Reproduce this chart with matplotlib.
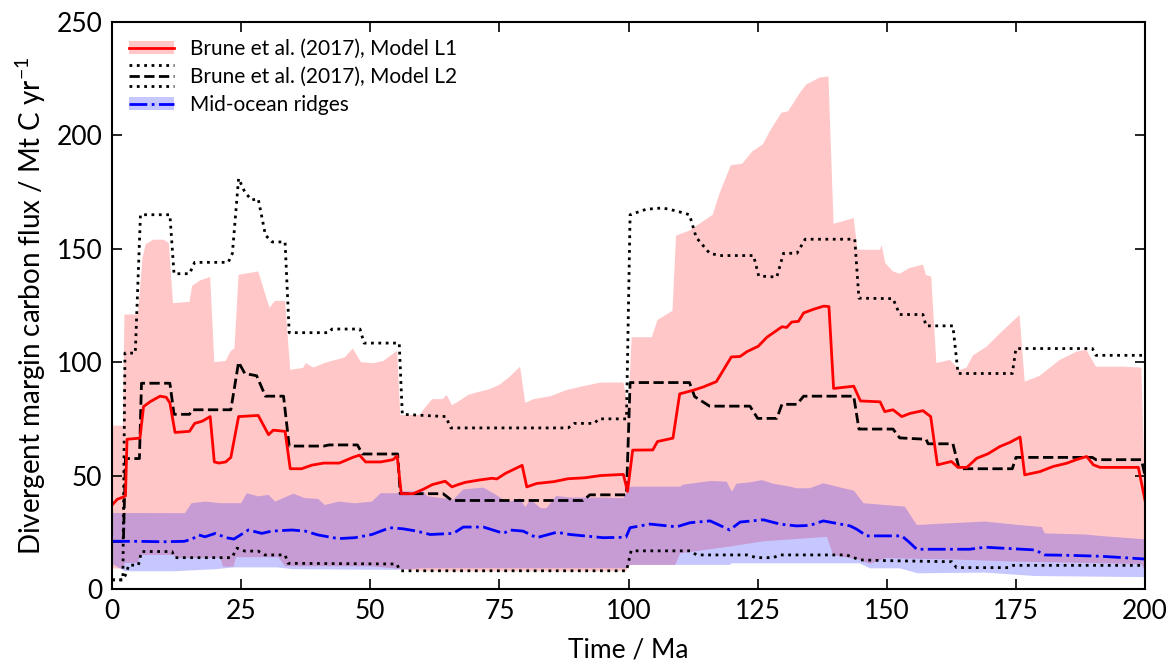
import numpy as np
import matplotlib
matplotlib.use('Agg')
import matplotlib.pyplot as plt
from matplotlib.lines import Line2D
from matplotlib.patches import Patch
from matplotlib.legend_handler import HandlerBase

plt.rcParams['font.family'] = ['Lato', 'DejaVu Sans']
plt.rcParams['mathtext.fontset'] = 'custom'
plt.rcParams['mathtext.rm'] = 'Lato'

# Brune et al. (2017), Model L1: mean line
l1_t = [0, 1, 2.2, 2.6, 2.9, 5.4, 6.1, 7.4, 9.3, 10.5, 11.2, 12.2, 15, 16, 17.5, 19, 19.8, 20.7,
        22, 23, 24.5, 28.3, 30.3, 31.2, 33.5, 34.5, 36.7, 38.7, 41, 44, 46.6, 47.9, 49.1, 52,
        54.4, 55.2, 56, 58.3, 60.3, 62, 64.5, 65.8, 67, 68.4, 71, 73.6, 74.5, 76.2, 79.4, 80.3,
        82.2, 85.5, 88.3, 91.5, 94.6, 99, 99.8, 100.8, 104.7, 105.6, 108.6, 109.9, 112.5, 114.4,
        117, 119.9, 121.6, 122.9, 125.1, 126.8, 128.7, 129.7, 130.6, 131.6, 132.9, 133.9, 135.8,
        137.8, 138.8, 139.7, 143.6, 144.9, 148.7, 149.6, 151.2, 152.9, 154.5, 157, 158.5, 159.8,
        162.5, 163.8, 165.5, 167.4, 169.6, 171.9, 173.8, 175.8, 176.7, 179.6, 182.2, 184.8,
        186.7, 188.7, 190, 191.3, 198.7, 200]
l1_mean = [37, 39.5, 40.6, 41, 66, 66.5, 80.4, 82.6, 85, 84.5, 82, 69, 69.5, 73, 74, 76, 56, 55.5,
           56, 58, 76, 76.5, 68, 70, 69.5, 53, 53, 54.6, 55.5, 55.5, 58, 59, 56, 56,
           57, 58.7, 42, 42, 44, 46, 47.5, 45, 46, 47, 48, 48.8, 48.5, 51, 54.5, 45,
           46.5, 47.3, 48.6, 49, 50, 50.5, 43, 61.2, 61.3, 65, 66.5, 86, 87.6, 89,
           91.4, 102.3, 102.5, 104.6, 107, 111, 114, 115.6, 115.3, 117.7, 118, 121.7, 123.3,
           124.7, 124.5, 88.4, 89.4, 82.9, 82.5, 78.2, 79, 76, 77.4, 78.6, 76, 54.7,
           56.2, 53.6, 53.6, 57.6, 59.6, 62.8, 64.6, 67, 50.3, 51.7, 54, 55.4,
           57, 58.4, 54.7, 53.6, 53.6, 39]

# Model L1: range
l1_max_t = [0, 2.1, 2.4, 5, 5.9, 6.5, 8, 10, 11, 11.8, 15, 15.5, 17, 19, 19.8, 22, 23, 23.7, 24.5,
            28.3, 29.7, 30.5, 31.5, 33.5, 34.5, 37, 37.5, 39, 41, 42.6, 45, 46.6, 48.2, 50.5, 52.5,
            54, 55.2, 55.8, 59.5, 60.6, 62, 64, 64.8, 65.8, 67, 69, 71, 73, 75, 77, 79, 80, 81.6,
            84.9, 88, 91.4, 94.6, 99, 100, 100.6, 104.5, 105.6, 108.5, 109.2, 111.8, 113.7, 116.3,
            117.6, 119.8, 122, 124, 126, 127.4, 129.6, 130.9, 133.1, 134.4, 137, 138.7, 139.7,
            143.6, 144.3, 148.7, 149, 149.7, 151.2, 152.5, 154.4, 157, 157.6, 158.6, 159.6, 162.2,
            164.1, 165.4, 166.7, 169.3, 171.9, 175.7, 176.7, 179.6, 183.5, 186.7, 188.6, 190.5,
            195.7, 199.3, 200]
l1_max = [72, 72, 121, 121, 146, 152, 154, 154, 152.5, 126, 126.6, 133.6, 136, 137.5, 100, 100.5, 105,
          106, 138.5, 140, 129.6, 124, 127, 127, 96.6, 97.5, 99.6, 97.6, 99.5, 100.6, 102, 106, 100,
          99.5, 100.5, 103, 105, 76.7, 76.7, 80, 83.7, 83.7, 85.5, 81, 82.6, 85.6, 86.9, 88, 90,
          93.6, 98, 82, 83.7, 85, 87.7, 89.5, 91, 91, 80, 111, 111, 118.6, 122.6, 155.8, 158, 161,
          165, 174.3, 186.8, 187.5, 193, 196, 202, 210, 210.6, 218.5, 222.4, 225.5, 226, 161,
          163.5, 149.6, 149.5, 151.7, 143.7, 140, 139, 141.5, 143, 138.4, 137.7, 99.6, 101,
          96.6, 97.5, 103, 106.8, 112.7, 120.8, 91.4, 94, 101, 104.6, 105.5, 98,
          98, 97.6, 40]
l1_min_t = [0, 2.2, 2.5, 5, 5.5, 11.8, 12.5, 21, 21.5, 23.5, 24, 32.2, 33.5, 50, 55, 60, 99.5, 100.3,
            109, 110, 119.6, 126.1, 138.4, 139.6, 144.8, 146.7, 149.7, 162.6, 176, 199.3, 200]
l1_min = [9, 9, 11.5, 11.5, 15, 15, 13.6, 13.6, 9.8, 9.8, 14, 14, 10, 10, 9, 7.8, 7.8, 10.6,
          10.6, 15.7, 18.7, 21, 23, 15, 12.8, 11, 13.6, 13, 12, 11, 8]

# Brune et al. (2017), Model L2: mean (dashed) and range (dotted)
l2_t = [0, 2.2, 2.6, 5.3, 5.7, 11.2, 12, 15, 15.5, 23, 24.5, 25.7, 28, 29.7, 33.2, 34.3, 41, 42, 47.5,
        48.5, 55.3, 55.8, 64.1, 65.8, 91.2, 92.5, 99.6, 100.3, 111.8, 112.8, 115.7, 123.5, 125,
        128.7, 129.7, 132.6, 133.9, 143.6, 144.6, 151.2, 152.5, 157.6, 158, 162.8, 164, 174.3,
        175, 189.8, 190.5, 199.3, 200]
l2_mean = [21, 21, 57.5, 57.5, 90.7, 90.7, 77, 77, 79, 79, 100, 95, 94, 85, 85, 63, 63, 63.5, 63.5,
           59.5, 59.5, 42, 42, 39, 39, 41.5, 41.5, 91, 91, 84.8, 80.6, 80.6, 75.2,
           75.2, 81.4, 81.4, 85, 85, 70.5, 70.5, 66.6, 66, 64, 64, 53, 53,
           58, 58, 57, 57, 50]
l2_max_t = [0, 2.1, 2.5, 4.5, 5.5, 11.2, 12, 15, 16, 22.5, 23.3, 24.5, 25.7, 27, 28.3, 29.7, 31, 33.5,
            34.3, 42, 42.6, 48, 48.8, 55.6, 56.2, 64.6, 65.6, 88.3, 89.5, 93.4, 94.2, 99.6, 100.3,
            103.4, 106.6, 109.2, 111.8, 113.1, 115.7, 117.7, 124.2, 125.2, 128.7, 130, 132.6, 134.2,
            143.8, 144.6, 151.2, 152.5, 157, 157.6, 162.8, 163.8, 174.3, 175, 189.8, 190.5, 200]
l2_max = [4, 4, 104, 104, 165, 165, 139, 139, 144, 144, 148, 181, 175, 171.5, 172, 156, 153, 153,
          113, 113, 114.6, 114.6, 108.4, 108.4, 77, 76, 71, 71, 73, 73, 75, 75, 165,
          167.4, 168, 166.7, 165, 155, 148, 147, 147, 138, 137.5, 148, 148, 154.2,
          154.2, 128.2, 128, 121, 121, 116, 116, 95, 95, 106, 106, 103, 103]
l2_min_t = [0, 2.1, 2.8, 3.2, 5.1, 5.7, 11.6, 12.2, 23.2, 24.2, 25.7, 28.3, 29.6, 33.5, 34.1, 55.1,
            55.8, 99.6, 100.5, 111.9, 113.2, 122.9, 124.8, 128, 129.3, 142.2, 144.8, 149.7, 162.6,
            163.5, 173.5, 174.5, 200]
l2_min = [4, 4, 7, 10.5, 10.5, 16.5, 16.5, 13.8, 13.8, 18, 16.7, 16.7, 15, 15, 11.3, 11,
          8, 8, 16.8, 16.8, 15, 15, 13.8, 13.8, 15, 15, 12.8, 12.5, 12,
          9.4, 9.4, 10.4, 10.4]

# Mid-ocean ridges: mean and range
mor_t = [0, 5, 10, 14, 15.5, 16.8, 18, 20, 22.1, 23.6, 26.4, 29, 30.9, 34.8, 37.4, 39.9, 43.8, 47,
         50.3, 53.8, 56.4, 59, 61.6, 66.1, 68, 71.9, 75.8, 77, 79.6, 82.2, 86.1, 88.7, 95.1, 99.5,
         100.3, 104.2, 109.3, 111.9, 115.8, 119.6, 121.6, 126.1, 129.3, 132.5, 135.1, 137.7, 142.9,
         144.2, 146.1, 152.9, 154.2, 155.8, 166, 169, 172.2, 178.7, 180.6, 185.8, 191.6, 200]
mor_mean = [21, 21, 20.8, 21, 22, 23.8, 23, 24.5, 22.6, 22, 26, 24.5, 25.5, 26, 25.5, 23.8, 22.2, 22.6,
            24, 27, 26.5, 25.5, 24, 24.5, 27.3, 27.3, 24.5, 26, 25.5, 22.6, 25, 24, 22.6, 22.8,
            27, 28.6, 27.4, 29.2, 30, 26, 29.5, 30.5, 28.6, 27.8, 28, 30, 27.8,
            26.3, 23.4, 23.4, 20.9, 17.5, 17.5, 18.4, 18, 17.2, 15, 14.8, 14.4, 13.2]
mor_max_t = [0, 14.1, 15.4, 18, 21.2, 25, 26.1, 28.3, 30.3, 31.6, 35.1, 37.4, 39.9, 41.2, 43.8, 47,
             50.3, 52, 55.1, 56.4, 60.3, 61, 66.1, 68, 71.9, 73.8, 75.8, 77.1, 79, 80, 81, 83, 84.1,
             86, 88.7, 95.1, 99, 100.3, 101.6, 110, 110.6, 115.8, 119, 120, 120.9, 123.5, 125.8,
             128, 131.3, 132.5, 135.1, 137.7, 141.6, 143.6, 145.5, 149.7, 153.5, 155.8, 162.6, 169,
             175.5, 180, 180.6, 188.4, 191.6, 199.3, 200]
mor_max = [33.5, 33.4, 37.8, 38.5, 37.8, 37.8, 42.2, 40.8, 41.5, 38.5, 42, 40, 39.7, 37, 38.5, 37.8,
           38.5, 42.2, 42.2, 43, 43, 40.9, 39.4, 43.9, 44.7, 42.2, 39.4, 38.5, 40, 36, 39.5, 35.6, 35.6,
           41, 40.3, 40.3, 40, 45, 45.1, 45.1, 46, 47.6, 47.3, 42.9, 46.4, 47, 48,
           46.4, 45.1, 44.4, 44.4, 46.6, 44.4, 43.4, 37.8, 37, 36.3, 28.2, 29, 29.7,
           28.2, 27.3, 24.5, 24, 23.3, 22, 22]
mor_min_t = [0, 2.5, 12, 20, 23.5, 32, 35, 55, 60, 99.5, 100.3, 119.6, 120, 144.8, 146.7, 152.5, 156,
             169, 178.7, 200]
mor_min = [11, 7.8, 7.8, 8.7, 9.5, 9.5, 8.7, 8.4, 9.1, 9.1, 10.6, 10.6, 11.3, 11.3, 9.1, 9.1, 6.9,
           7.2, 5.7, 5.2]


class StackedL2(HandlerBase):
    # dotted / dashed / dotted, stacked like in the original legend
    def create_artists(self, legend, orig_handle, xdescent, ydescent, width, height, fontsize, trans):
        out = []
        mid = height / 2 - ydescent
        for off, ls in [(1, ':'), (0, '--'), (-1, ':')]:
            y = mid + off * 0.5 * fontsize
            out.append(Line2D([-xdescent, -xdescent + width], [y, y], ls=ls, color='k', lw=2,
                              transform=trans))
        return out


fig = plt.figure(figsize=(11.72, 6.61), dpi=100)
ax = fig.add_axes([0.0956, 0.109, 0.8814, 0.8578])

ax.fill(np.concatenate([l1_max_t, l1_min_t[::-1]]), np.concatenate([l1_max, l1_min[::-1]]),
        color='red', alpha=0.22, lw=0)
ax.fill(np.concatenate([mor_max_t, mor_min_t[::-1]]), np.concatenate([mor_max, mor_min[::-1]]),
        color='blue', alpha=0.22, lw=0)

ax.plot(l2_max_t, l2_max, color='k', ls=':', lw=2)
ax.plot(l2_min_t, l2_min, color='k', ls=':', lw=2)
ax.plot(l2_t, l2_mean, color='k', ls='--', lw=2)
ax.plot(l1_t, l1_mean, color='red', lw=2)
ax.plot(mor_t, mor_mean, color='blue', ls='-.', lw=2)

ax.set_xlim(0, 200)
ax.set_ylim(0, 250)
ax.set_xticks(np.arange(0, 201, 25))
ax.set_yticks(np.arange(0, 251, 50))
ax.tick_params(direction='in', top=True, right=True, length=7, width=1.2, labelsize=19, pad=7)
for s in ax.spines.values():
    s.set_linewidth(1.5)
ax.set_xlabel('Time / Ma', fontsize=19, labelpad=10)
ax.set_ylabel(r'Divergent margin carbon flux / Mt C yr$^{-1}$', fontsize=20, labelpad=6)

h1 = (Patch(facecolor='red', alpha=0.22, lw=0), Line2D([], [], color='red', lw=2))
h2 = object()
h3 = (Patch(facecolor='blue', alpha=0.22, lw=0), Line2D([], [], color='blue', ls='-.', lw=2))
ax.legend([h1, h2, h3],
          ['Brune et al. (2017), Model L1', 'Brune et al. (2017), Model L2', 'Mid-ocean ridges'],
          handler_map={type(h2): StackedL2()}, loc='upper left', frameon=False, fontsize=15,
          handlelength=2.15, handleheight=0.58, handletextpad=0.8, borderaxespad=0.4,
          borderpad=0.4, labelspacing=0.4)

fig.savefig('out.png', dpi=100)
